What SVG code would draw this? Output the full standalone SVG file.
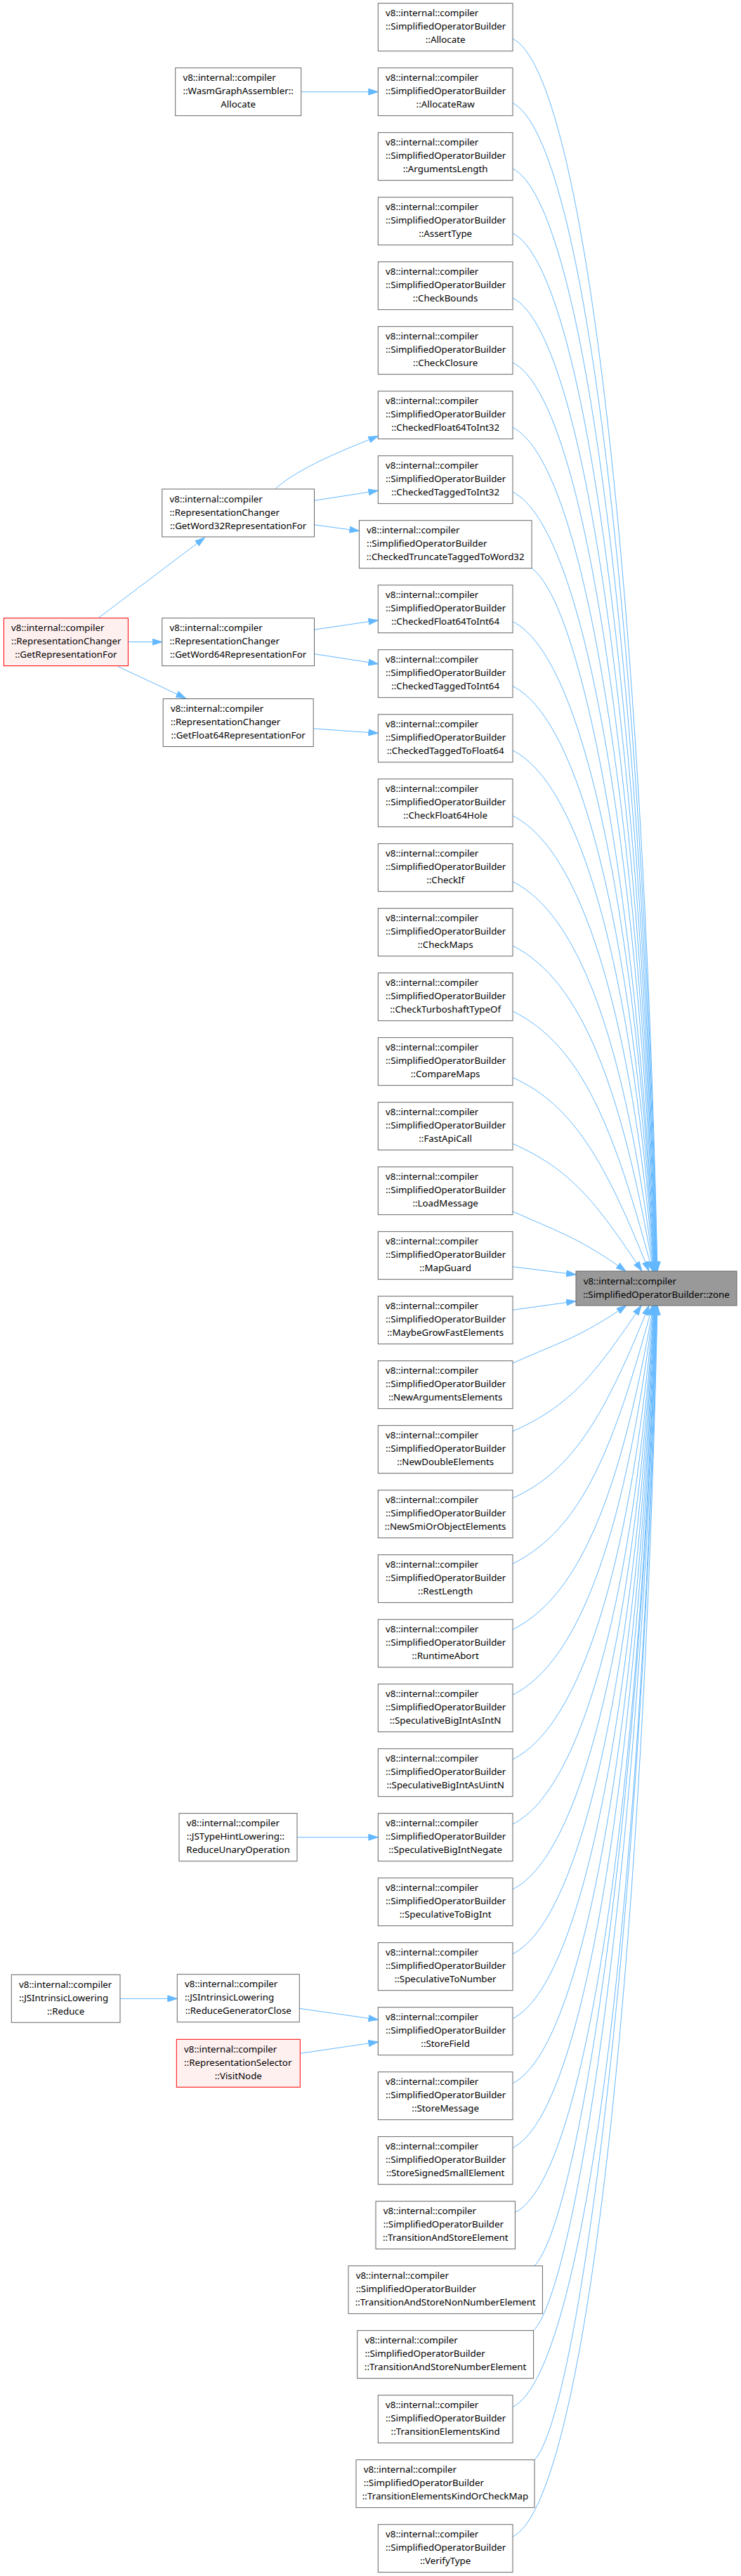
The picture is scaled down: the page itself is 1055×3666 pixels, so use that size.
<svg xmlns="http://www.w3.org/2000/svg" width="1055" height="3666" viewBox="0 0 1055 3666">
<style>
.node rect { fill: #ffffff; stroke: #666666; stroke-width: 1; }
.red rect { fill: #fff0f0; stroke: #ff0000; }
.target rect { fill: #999999; stroke: #666666; }
text { font-family: "Noto Sans", "Open Sans", "DejaVu Sans", sans-serif; font-size: 13.33px; fill: #000000; }
text.c { text-anchor: middle; }
#edges path { fill: none; stroke: #63b8ff; stroke-width: 1; marker-end: url(#ah); }
</style>
<defs>
<marker id="ah" viewBox="0 0 15 10" markerWidth="15" markerHeight="10" refX="14" refY="5" orient="auto" markerUnits="userSpaceOnUse">
<path d="M0.5,0.6 L14,5 L0.5,9.4 Z" fill="#63b8ff" stroke="#63b8ff" stroke-width="1"/>
</marker>
</defs>
<rect x="0" y="0" width="1055" height="3666" fill="#ffffff"/>
<g id="edges">
<path d="M428.7,130.7 L538.3,130.7"/>
<path d="M392.3,695.5 C425,665 500,636 538.3,620.6"/>
<path d="M447.5,712.4 L538.3,698.2"/>
<path d="M447.5,746.8 L511.4,755.6"/>
<path d="M140,879.6 L291.4,765.2"/>
<path d="M182.4,913.6 L230.8,913.6"/>
<path d="M168,948.5 L264.5,993.7"/>
<path d="M447.5,896.1 L538.3,882.7"/>
<path d="M447.5,930.6 L538.3,944.7"/>
<path d="M446.2,1036.9 L538.3,1043.4"/>
<path d="M423,2614.7 L538.3,2614.7"/>
<path d="M171,2844.3 L252.3,2844.3"/>
<path d="M426.3,2858.3 L538.3,2874.3"/>
<path d="M427.3,2922.3 L538.3,2906"/>
<path d="M730,55 C833,106.5 915,844.3 936,1809"/>
<path d="M730,146.7 C832.8,198.1 913.9,894.7 935.6,1809"/>
<path d="M730,240 C832.6,291.3 912.7,946 935.2,1809"/>
<path d="M730,332 C832.4,383.2 911.6,996.6 934.8,1809"/>
<path d="M730,424 C832.2,475.1 910.5,1047.3 934.4,1809"/>
<path d="M730,516 C832,567 909.4,1097.9 934,1809"/>
<path d="M730,608.3 C831.7,659.1 908.2,1148.6 933.6,1809"/>
<path d="M730,700.2 C831.5,751 907.1,1199.2 933.2,1809"/>
<path d="M757,808.7 C827,858.7 906,1258.8 932.8,1809"/>
<path d="M730,884.6 C831.2,935.2 904.8,1300.6 932.4,1809"/>
<path d="M730,976.5 C831,1027 903.7,1351.1 932,1809"/>
<path d="M730,1068 C830.8,1118.4 902.6,1401.4 931.6,1809"/>
<path d="M730,1161 C830.6,1211.3 899.2,1452.6 931.2,1809"/>
<path d="M730,1254.7 C830.4,1304.9 892.8,1504.1 930.8,1809"/>
<path d="M730,1346 C830.2,1396.1 885.7,1554.4 930.4,1809"/>
<path d="M730,1439 C829.5,1488.8 874,1605.5 929,1809"/>
<path d="M730,1533.5 C817.3,1572.3 863.4,1657.5 924,1809"/>
<path d="M730,1627.6 C812.8,1664.4 847.5,1709.2 914,1809"/>
<path d="M730,1724 C802.5,1756.2 825.2,1762.3 891,1809"/>
<path d="M730,1802.7 L820,1814"/>
<path d="M730,1864.3 L820,1851.7"/>
<path d="M730,1940 C802.8,1907.7 825.9,1903.1 891.7,1858"/>
<path d="M730,2037 C812.4,2000.4 846.5,1956.5 913,1858"/>
<path d="M730,2132 C817.3,2093.2 863.4,2008.7 924,1858"/>
<path d="M730,2225.5 C829.5,2175.8 874,2060.1 929,1858"/>
<path d="M730,2319 C830.2,2268.9 885.7,2111.6 930.4,1858"/>
<path d="M730,2412 C830.4,2361.8 892.8,2162.7 930.8,1858"/>
<path d="M730,2503.8 C830.6,2453.5 899.2,2213.2 931.2,1858"/>
<path d="M730,2596 C830.8,2545.6 902.6,2263.9 931.6,1858"/>
<path d="M730,2688.7 C831,2638.2 903.7,2314.9 932,1858"/>
<path d="M730,2780.7 C831.2,2730.1 904.8,2365.5 932.4,1858"/>
<path d="M730,2872.7 C831.4,2822 906,2416.1 932.8,1858"/>
<path d="M730,2964.7 C831.6,2913.9 907.1,2466.7 933.2,1858"/>
<path d="M730,3056.7 C831.8,3005.8 908.2,2517.3 933.6,1858"/>
<path d="M733.4,3148.7 C833.7,3098.6 909.4,2567.9 934,1858"/>
<path d="M760.8,3224.7 C820.8,3164.7 910.5,2609.7 934.4,1858"/>
<path d="M759.6,3316.7 C819.6,3256.7 911.6,2660.3 934.8,1858"/>
<path d="M730,3425.5 C832.6,3374.2 912.7,2720.1 935.2,1858"/>
<path d="M761,3500.7 C821,3440.7 913.9,2761.5 935.6,1858"/>
<path d="M730,3610 C833,3558.5 915,2821.6 936,1858"/>
</g>

<g id="n_zone" class="node target" transform="translate(820,1809)"><rect width="229" height="49"/><text x="10.7" y="18.5">v8::internal::compiler</text><text class="c" x="114.5" y="37.5">::SimplifiedOperatorBuilder::zone</text></g>

<g id="n_WasmAllocate" class="node" transform="translate(249.7,96.67)"><rect width="179" height="68"/><text x="10.7" y="18.5">v8::internal::compiler</text><text x="10.7" y="37.5">::WasmGraphAssembler::</text><text class="c" x="89.5" y="56.5">Allocate</text></g>
<g id="n_GetWord32" class="node" transform="translate(230.8,696)"><rect width="216.7" height="68"/><text x="10.7" y="18.5">v8::internal::compiler</text><text x="10.7" y="37.5">::RepresentationChanger</text><text class="c" x="108.35" y="56.5">::GetWord32RepresentationFor</text></g>
<g id="n_GetRepresentationFor" class="node red" transform="translate(5.4,879.6)"><rect width="177" height="68"/><text x="10.7" y="18.5">v8::internal::compiler</text><text x="10.7" y="37.5">::RepresentationChanger</text><text class="c" x="88.5" y="56.5">::GetRepresentationFor</text></g>
<g id="n_GetWord64" class="node" transform="translate(230.8,879.6)"><rect width="216.7" height="68"/><text x="10.7" y="18.5">v8::internal::compiler</text><text x="10.7" y="37.5">::RepresentationChanger</text><text class="c" x="108.35" y="56.5">::GetWord64RepresentationFor</text></g>
<g id="n_GetFloat64" class="node" transform="translate(232.2,994.5)"><rect width="214" height="68"/><text x="10.7" y="18.5">v8::internal::compiler</text><text x="10.7" y="37.5">::RepresentationChanger</text><text class="c" x="107" y="56.5">::GetFloat64RepresentationFor</text></g>
<g id="n_ReduceUnaryOperation" class="node" transform="translate(255,2580.67)"><rect width="168" height="68"/><text x="10.7" y="18.5">v8::internal::compiler</text><text x="10.7" y="37.5">::JSTypeHintLowering::</text><text class="c" x="84" y="56.5">ReduceUnaryOperation</text></g>
<g id="n_JSIntrinsicReduce" class="node" transform="translate(16.3,2810.3)"><rect width="154.7" height="68"/><text x="10.7" y="18.5">v8::internal::compiler</text><text x="10.7" y="37.5">::JSIntrinsicLowering</text><text class="c" x="77.35" y="56.5">::Reduce</text></g>
<g id="n_ReduceGeneratorClose" class="node" transform="translate(252.3,2809.7)"><rect width="174" height="68"/><text x="10.7" y="18.5">v8::internal::compiler</text><text x="10.7" y="37.5">::JSIntrinsicLowering</text><text class="c" x="87" y="56.5">::ReduceGeneratorClose</text></g>
<g id="n_VisitNode" class="node red" transform="translate(251.3,2902.3)"><rect width="176" height="68"/><text x="10.7" y="18.5">v8::internal::compiler</text><text x="10.7" y="37.5">::RepresentationSelector</text><text class="c" x="88" y="56.5">::VisitNode</text></g>

<g id="n_Allocate" class="node" transform="translate(538.3,4.67)"><rect width="191.7" height="68"/><text x="10.7" y="18.5">v8::internal::compiler</text><text x="10.7" y="37.5">::SimplifiedOperatorBuilder</text><text class="c" x="95.85" y="56.5">::Allocate</text></g>
<g id="n_AllocateRaw" class="node" transform="translate(538.3,96.67)"><rect width="191.7" height="68"/><text x="10.7" y="18.5">v8::internal::compiler</text><text x="10.7" y="37.5">::SimplifiedOperatorBuilder</text><text class="c" x="95.85" y="56.5">::AllocateRaw</text></g>
<g id="n_ArgumentsLength" class="node" transform="translate(538.3,188.67)"><rect width="191.7" height="68"/><text x="10.7" y="18.5">v8::internal::compiler</text><text x="10.7" y="37.5">::SimplifiedOperatorBuilder</text><text class="c" x="95.85" y="56.5">::ArgumentsLength</text></g>
<g id="n_AssertType" class="node" transform="translate(538.3,280.67)"><rect width="191.7" height="68"/><text x="10.7" y="18.5">v8::internal::compiler</text><text x="10.7" y="37.5">::SimplifiedOperatorBuilder</text><text class="c" x="95.85" y="56.5">::AssertType</text></g>
<g id="n_CheckBounds" class="node" transform="translate(538.3,372.67)"><rect width="191.7" height="68"/><text x="10.7" y="18.5">v8::internal::compiler</text><text x="10.7" y="37.5">::SimplifiedOperatorBuilder</text><text class="c" x="95.85" y="56.5">::CheckBounds</text></g>
<g id="n_CheckClosure" class="node" transform="translate(538.3,464.67)"><rect width="191.7" height="68"/><text x="10.7" y="18.5">v8::internal::compiler</text><text x="10.7" y="37.5">::SimplifiedOperatorBuilder</text><text class="c" x="95.85" y="56.5">::CheckClosure</text></g>
<g id="n_CheckedFloat64ToInt32" class="node" transform="translate(538.3,556.67)"><rect width="191.7" height="68"/><text x="10.7" y="18.5">v8::internal::compiler</text><text x="10.7" y="37.5">::SimplifiedOperatorBuilder</text><text class="c" x="95.85" y="56.5">::CheckedFloat64ToInt32</text></g>
<g id="n_CheckedTaggedToInt32" class="node" transform="translate(538.3,648.67)"><rect width="191.7" height="68"/><text x="10.7" y="18.5">v8::internal::compiler</text><text x="10.7" y="37.5">::SimplifiedOperatorBuilder</text><text class="c" x="95.85" y="56.5">::CheckedTaggedToInt32</text></g>
<g id="n_CheckedTruncateTaggedToWord32" class="node" transform="translate(511.4,740.67)"><rect width="245.6" height="68"/><text x="10.7" y="18.5">v8::internal::compiler</text><text x="10.7" y="37.5">::SimplifiedOperatorBuilder</text><text class="c" x="122.8" y="56.5">::CheckedTruncateTaggedToWord32</text></g>
<g id="n_CheckedFloat64ToInt64" class="node" transform="translate(538.3,832.67)"><rect width="191.7" height="68"/><text x="10.7" y="18.5">v8::internal::compiler</text><text x="10.7" y="37.5">::SimplifiedOperatorBuilder</text><text class="c" x="95.85" y="56.5">::CheckedFloat64ToInt64</text></g>
<g id="n_CheckedTaggedToInt64" class="node" transform="translate(538.3,924.67)"><rect width="191.7" height="68"/><text x="10.7" y="18.5">v8::internal::compiler</text><text x="10.7" y="37.5">::SimplifiedOperatorBuilder</text><text class="c" x="95.85" y="56.5">::CheckedTaggedToInt64</text></g>
<g id="n_CheckedTaggedToFloat64" class="node" transform="translate(538.3,1016.67)"><rect width="191.7" height="68"/><text x="10.7" y="18.5">v8::internal::compiler</text><text x="10.7" y="37.5">::SimplifiedOperatorBuilder</text><text class="c" x="95.85" y="56.5">::CheckedTaggedToFloat64</text></g>
<g id="n_CheckFloat64Hole" class="node" transform="translate(538.3,1108.67)"><rect width="191.7" height="68"/><text x="10.7" y="18.5">v8::internal::compiler</text><text x="10.7" y="37.5">::SimplifiedOperatorBuilder</text><text class="c" x="95.85" y="56.5">::CheckFloat64Hole</text></g>
<g id="n_CheckIf" class="node" transform="translate(538.3,1200.67)"><rect width="191.7" height="68"/><text x="10.7" y="18.5">v8::internal::compiler</text><text x="10.7" y="37.5">::SimplifiedOperatorBuilder</text><text class="c" x="95.85" y="56.5">::CheckIf</text></g>
<g id="n_CheckMaps" class="node" transform="translate(538.3,1292.67)"><rect width="191.7" height="68"/><text x="10.7" y="18.5">v8::internal::compiler</text><text x="10.7" y="37.5">::SimplifiedOperatorBuilder</text><text class="c" x="95.85" y="56.5">::CheckMaps</text></g>
<g id="n_CheckTurboshaftTypeOf" class="node" transform="translate(538.3,1384.67)"><rect width="191.7" height="68"/><text x="10.7" y="18.5">v8::internal::compiler</text><text x="10.7" y="37.5">::SimplifiedOperatorBuilder</text><text class="c" x="95.85" y="56.5">::CheckTurboshaftTypeOf</text></g>
<g id="n_CompareMaps" class="node" transform="translate(538.3,1476.67)"><rect width="191.7" height="68"/><text x="10.7" y="18.5">v8::internal::compiler</text><text x="10.7" y="37.5">::SimplifiedOperatorBuilder</text><text class="c" x="95.85" y="56.5">::CompareMaps</text></g>
<g id="n_FastApiCall" class="node" transform="translate(538.3,1568.67)"><rect width="191.7" height="68"/><text x="10.7" y="18.5">v8::internal::compiler</text><text x="10.7" y="37.5">::SimplifiedOperatorBuilder</text><text class="c" x="95.85" y="56.5">::FastApiCall</text></g>
<g id="n_LoadMessage" class="node" transform="translate(538.3,1660.67)"><rect width="191.7" height="68"/><text x="10.7" y="18.5">v8::internal::compiler</text><text x="10.7" y="37.5">::SimplifiedOperatorBuilder</text><text class="c" x="95.85" y="56.5">::LoadMessage</text></g>
<g id="n_MapGuard" class="node" transform="translate(538.3,1752.67)"><rect width="191.7" height="68"/><text x="10.7" y="18.5">v8::internal::compiler</text><text x="10.7" y="37.5">::SimplifiedOperatorBuilder</text><text class="c" x="95.85" y="56.5">::MapGuard</text></g>
<g id="n_MaybeGrowFastElements" class="node" transform="translate(538.3,1844.67)"><rect width="191.7" height="68"/><text x="10.7" y="18.5">v8::internal::compiler</text><text x="10.7" y="37.5">::SimplifiedOperatorBuilder</text><text class="c" x="95.85" y="56.5">::MaybeGrowFastElements</text></g>
<g id="n_NewArgumentsElements" class="node" transform="translate(538.3,1936.67)"><rect width="191.7" height="68"/><text x="10.7" y="18.5">v8::internal::compiler</text><text x="10.7" y="37.5">::SimplifiedOperatorBuilder</text><text class="c" x="95.85" y="56.5">::NewArgumentsElements</text></g>
<g id="n_NewDoubleElements" class="node" transform="translate(538.3,2028.67)"><rect width="191.7" height="68"/><text x="10.7" y="18.5">v8::internal::compiler</text><text x="10.7" y="37.5">::SimplifiedOperatorBuilder</text><text class="c" x="95.85" y="56.5">::NewDoubleElements</text></g>
<g id="n_NewSmiOrObjectElements" class="node" transform="translate(538.3,2120.67)"><rect width="191.7" height="68"/><text x="10.7" y="18.5">v8::internal::compiler</text><text x="10.7" y="37.5">::SimplifiedOperatorBuilder</text><text class="c" x="95.85" y="56.5">::NewSmiOrObjectElements</text></g>
<g id="n_RestLength" class="node" transform="translate(538.3,2212.67)"><rect width="191.7" height="68"/><text x="10.7" y="18.5">v8::internal::compiler</text><text x="10.7" y="37.5">::SimplifiedOperatorBuilder</text><text class="c" x="95.85" y="56.5">::RestLength</text></g>
<g id="n_RuntimeAbort" class="node" transform="translate(538.3,2304.67)"><rect width="191.7" height="68"/><text x="10.7" y="18.5">v8::internal::compiler</text><text x="10.7" y="37.5">::SimplifiedOperatorBuilder</text><text class="c" x="95.85" y="56.5">::RuntimeAbort</text></g>
<g id="n_SpeculativeBigIntAsIntN" class="node" transform="translate(538.3,2396.67)"><rect width="191.7" height="68"/><text x="10.7" y="18.5">v8::internal::compiler</text><text x="10.7" y="37.5">::SimplifiedOperatorBuilder</text><text class="c" x="95.85" y="56.5">::SpeculativeBigIntAsIntN</text></g>
<g id="n_SpeculativeBigIntAsUintN" class="node" transform="translate(538.3,2488.67)"><rect width="191.7" height="68"/><text x="10.7" y="18.5">v8::internal::compiler</text><text x="10.7" y="37.5">::SimplifiedOperatorBuilder</text><text class="c" x="95.85" y="56.5">::SpeculativeBigIntAsUintN</text></g>
<g id="n_SpeculativeBigIntNegate" class="node" transform="translate(538.3,2580.67)"><rect width="191.7" height="68"/><text x="10.7" y="18.5">v8::internal::compiler</text><text x="10.7" y="37.5">::SimplifiedOperatorBuilder</text><text class="c" x="95.85" y="56.5">::SpeculativeBigIntNegate</text></g>
<g id="n_SpeculativeToBigInt" class="node" transform="translate(538.3,2672.67)"><rect width="191.7" height="68"/><text x="10.7" y="18.5">v8::internal::compiler</text><text x="10.7" y="37.5">::SimplifiedOperatorBuilder</text><text class="c" x="95.85" y="56.5">::SpeculativeToBigInt</text></g>
<g id="n_SpeculativeToNumber" class="node" transform="translate(538.3,2764.67)"><rect width="191.7" height="68"/><text x="10.7" y="18.5">v8::internal::compiler</text><text x="10.7" y="37.5">::SimplifiedOperatorBuilder</text><text class="c" x="95.85" y="56.5">::SpeculativeToNumber</text></g>
<g id="n_StoreField" class="node" transform="translate(538.3,2856.67)"><rect width="191.7" height="68"/><text x="10.7" y="18.5">v8::internal::compiler</text><text x="10.7" y="37.5">::SimplifiedOperatorBuilder</text><text class="c" x="95.85" y="56.5">::StoreField</text></g>
<g id="n_StoreMessage" class="node" transform="translate(538.3,2948.67)"><rect width="191.7" height="68"/><text x="10.7" y="18.5">v8::internal::compiler</text><text x="10.7" y="37.5">::SimplifiedOperatorBuilder</text><text class="c" x="95.85" y="56.5">::StoreMessage</text></g>
<g id="n_StoreSignedSmallElement" class="node" transform="translate(538.3,3040.67)"><rect width="191.7" height="68"/><text x="10.7" y="18.5">v8::internal::compiler</text><text x="10.7" y="37.5">::SimplifiedOperatorBuilder</text><text class="c" x="95.85" y="56.5">::StoreSignedSmallElement</text></g>
<g id="n_TransitionAndStoreElement" class="node" transform="translate(535,3132.67)"><rect width="198.4" height="68"/><text x="10.7" y="18.5">v8::internal::compiler</text><text x="10.7" y="37.5">::SimplifiedOperatorBuilder</text><text class="c" x="99.2" y="56.5">::TransitionAndStoreElement</text></g>
<g id="n_TransitionAndStoreNonNumberElement" class="node" transform="translate(496,3224.67)"><rect width="276.4" height="68"/><text x="10.7" y="18.5">v8::internal::compiler</text><text x="10.7" y="37.5">::SimplifiedOperatorBuilder</text><text class="c" x="138.2" y="56.5">::TransitionAndStoreNonNumberElement</text></g>
<g id="n_TransitionAndStoreNumberElement" class="node" transform="translate(508.7,3316.67)"><rect width="250.9" height="68"/><text x="10.7" y="18.5">v8::internal::compiler</text><text x="10.7" y="37.5">::SimplifiedOperatorBuilder</text><text class="c" x="125.45" y="56.5">::TransitionAndStoreNumberElement</text></g>
<g id="n_TransitionElementsKind" class="node" transform="translate(538.3,3408.67)"><rect width="191.7" height="68"/><text x="10.7" y="18.5">v8::internal::compiler</text><text x="10.7" y="37.5">::SimplifiedOperatorBuilder</text><text class="c" x="95.85" y="56.5">::TransitionElementsKind</text></g>
<g id="n_TransitionElementsKindOrCheckMap" class="node" transform="translate(507,3500.67)"><rect width="254" height="68"/><text x="10.7" y="18.5">v8::internal::compiler</text><text x="10.7" y="37.5">::SimplifiedOperatorBuilder</text><text class="c" x="127" y="56.5">::TransitionElementsKindOrCheckMap</text></g>
<g id="n_VerifyType" class="node" transform="translate(538.3,3592.67)"><rect width="191.7" height="68"/><text x="10.7" y="18.5">v8::internal::compiler</text><text x="10.7" y="37.5">::SimplifiedOperatorBuilder</text><text class="c" x="95.85" y="56.5">::VerifyType</text></g>
</svg>
